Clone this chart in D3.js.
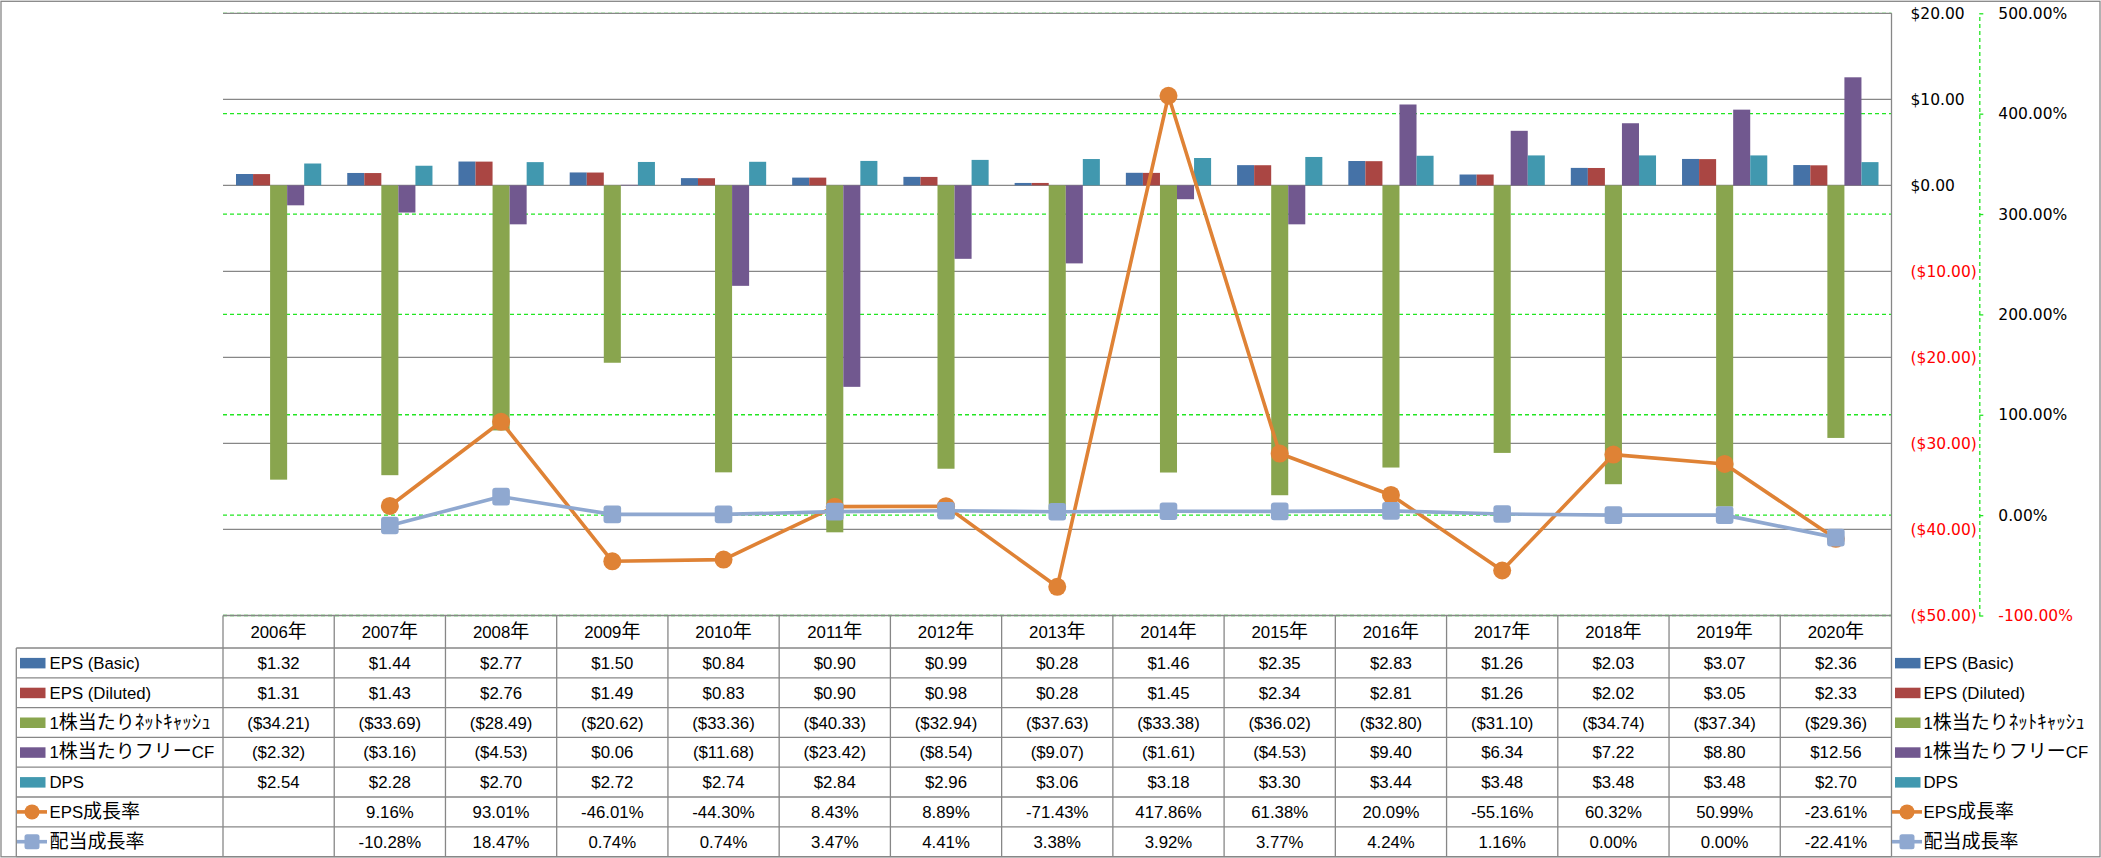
<!DOCTYPE html>
<html><head><meta charset="utf-8">
<script src="https://cdn.jsdelivr.net/npm/d3@7"></script>
<style>html,body{margin:0;padding:0;background:#fff;}svg{display:block;}</style>
</head><body>
<svg id="chart" width="2101" height="858"></svg>
<script>
const years = ["2006年","2007年","2008年","2009年","2010年","2011年","2012年","2013年","2014年","2015年","2016年","2017年","2018年","2019年","2020年"];
const epsBasic   = [1.32,1.44,2.77,1.50,0.84,0.90,0.99,0.28,1.46,2.35,2.83,1.26,2.03,3.07,2.36];
const epsDiluted = [1.31,1.43,2.76,1.49,0.83,0.90,0.98,0.28,1.45,2.34,2.81,1.26,2.02,3.05,2.33];
const netCash    = [-34.21,-33.69,-28.49,-20.62,-33.36,-40.33,-32.94,-37.63,-33.38,-36.02,-32.80,-31.10,-34.74,-37.34,-29.36];
const freeCF     = [-2.32,-3.16,-4.53,0.06,-11.68,-23.42,-8.54,-9.07,-1.61,-4.53,9.40,6.34,7.22,8.80,12.56];
const dps        = [2.54,2.28,2.70,2.72,2.74,2.84,2.96,3.06,3.18,3.30,3.44,3.48,3.48,3.48,2.70];
const epsGrowth  = [null,9.16,93.01,-46.01,-44.30,8.43,8.89,-71.43,417.86,61.38,20.09,-55.16,60.32,50.99,-23.61];
const divGrowth  = [null,-10.28,18.47,0.74,0.74,3.47,4.41,3.38,3.92,3.77,4.24,1.16,0.00,0.00,-22.41];
const leftTicks  = [-50,-40,-30,-20,-10,0,10,20];
const rightTicks = [-100,0,100,200,300,400,500];

const barSeries = [
  {name:"EPS (Basic)", values:epsBasic, color:"#4572A7"},
  {name:"EPS (Diluted)", values:epsDiluted, color:"#AA4643"},
  {name:"1株当たりﾈｯﾄｷｬｯｼｭ", values:netCash, color:"#89A54E"},
  {name:"1株当たりフリーCF", values:freeCF, color:"#71588F"},
  {name:"DPS", values:dps, color:"#4198AF"}
];
const lineSeries = [
  {name:"EPS成長率", values:epsGrowth, color:"#DF8235", marker:"circle"},
  {name:"配当成長率", values:divGrowth, color:"#8FA8D0", marker:"square"}
];

const svg = d3.select("#chart");
const GRAY = "#878787", GREEN = "#22e622", RED = "#ff0000";
const plotL = 223, plotR = 1891.5, plotT = 13.3, plotB = 615.5;
const tableL = 16.3, headerB = 648, tableB = 856.6;

svg.append("rect").attr("x",1).attr("y",1.3).attr("width",2099).attr("height",855.5)
  .attr("fill","#fff").attr("stroke",GRAY).attr("stroke-width",1.3);

const x = d3.scaleBand().domain(years).range([plotL, plotR]).padding(0);
const bw = x.bandwidth();
const xInner = d3.scaleBand().domain(barSeries.map(s=>s.name)).range([13, bw-13]).padding(0);
const yL = d3.scaleLinear().domain([-50,20]).range([plotB, plotT]);
const yR = d3.scaleLinear().domain([-100,500]).range([plotB, plotT]);

// green dashed gridlines (percent axis)
svg.append("g").selectAll("line").data(rightTicks).join("line")
  .attr("x1",plotL).attr("x2",plotR).attr("y1",d=>yR(d)).attr("y2",d=>yR(d))
  .attr("stroke",GREEN).attr("stroke-width",1.3).attr("stroke-dasharray","4,3");
// gray gridlines
svg.append("g").selectAll("line").data(leftTicks).join("line")
  .attr("x1",plotL).attr("x2",plotR).attr("y1",d=>yL(d)).attr("y2",d=>yL(d))
  .attr("stroke",GRAY).attr("stroke-width",1.3);

// bars
barSeries.forEach(s=>{
  svg.append("g").selectAll("rect").data(s.values).join("rect")
    .attr("x",(d,i)=>x(years[i])+xInner(s.name))
    .attr("width",xInner.bandwidth())
    .attr("y",d=>yL(Math.max(0,d)))
    .attr("height",d=>Math.abs(yL(d)-yL(0)))
    .attr("fill",s.color);
});

// lines
lineSeries.forEach(s=>{
  const pts = s.values.map((v,i)=>({v,i})).filter(p=>p.v!==null);
  const line = d3.line().x(p=>x(years[p.i])+bw/2).y(p=>yR(p.v));
  svg.append("path").datum(pts).attr("d",line).attr("fill","none")
    .attr("stroke",s.color).attr("stroke-width",3.6).attr("stroke-linejoin","round");
  const g = svg.append("g");
  if (s.marker==="circle") {
    g.selectAll("circle").data(pts).join("circle")
      .attr("cx",p=>x(years[p.i])+bw/2).attr("cy",p=>yR(p.v)).attr("r",9).attr("fill",s.color);
  } else {
    g.selectAll("rect").data(pts).join("rect")
      .attr("x",p=>x(years[p.i])+bw/2-8.8).attr("y",p=>yR(p.v)-8.8)
      .attr("width",17.6).attr("height",17.6).attr("rx",3).attr("fill",s.color);
  }
});

// plot right border
svg.append("line").attr("x1",plotR).attr("x2",plotR).attr("y1",plotT).attr("y2",tableB)
  .attr("stroke",GRAY).attr("stroke-width",1.3);

// axes
const fmtMoney = v => (v<0 ? "($"+d3.format(".2f")(-v)+")" : "$"+d3.format(".2f")(v));
const fmtPct = v => (v<0 ? "-" : "") + d3.format(".2f")(Math.abs(v)) + "%";

const axL = svg.append("g").attr("transform","translate(1910.5,0)")
  .call(d3.axisRight(yL).tickValues(leftTicks).tickSize(0).tickPadding(0).tickFormat(fmtMoney));
axL.select(".domain").remove();
axL.selectAll("text").attr("font-family","'DejaVu Sans'").attr("font-size","15.5px")
  .attr("fill",d=>d<0?RED:"#000");

const axR = svg.append("g").attr("transform","translate(1979.3,0)")
  .call(d3.axisRight(yR).tickValues(rightTicks).tickSize(4).tickSizeOuter(0).tickPadding(15).tickFormat(fmtPct));
axR.select(".domain").attr("stroke",GREEN).attr("stroke-width",1.3).attr("stroke-dasharray","4,3");
axR.selectAll(".tick line").attr("stroke",GREEN).attr("stroke-width",1.3);
axR.selectAll("text").attr("font-family","'DejaVu Sans'").attr("font-size","15.5px")
  .attr("fill",d=>d<0?RED:"#000");

// data table
const CJK = /[\u3000-\u9fff\uff00-\uffef]/;
function richText(sel, str) {
  const parts = str.match(/[\u3000-\u9fff\uff00-\uffef]+|[^\u3000-\u9fff\uff00-\uffef]+/g);
  parts.forEach(p=>{
    const c = CJK.test(p);
    sel.append("tspan").text(p)
      .attr("font-family", c ? "'Noto Sans CJK JP'" : "'Liberation Sans'")
      .attr("font-size", c ? "19px" : "16.8px");
  });
}
const rowH = (tableB-headerB)/7;
const rowTop = i => headerB + i*rowH;
const tbl = svg.append("g");
d3.range(0,8).forEach(i=>{
  tbl.append("line").attr("x1",tableL).attr("x2",plotR).attr("y1",rowTop(i)).attr("y2",rowTop(i))
    .attr("stroke",GRAY).attr("stroke-width",1.3);
});
tbl.append("line").attr("x1",tableL).attr("x2",tableL).attr("y1",headerB).attr("y2",tableB)
  .attr("stroke",GRAY).attr("stroke-width",1.3);
years.forEach(yr=>{
  tbl.append("line").attr("x1",x(yr)).attr("x2",x(yr)).attr("y1",plotB).attr("y2",tableB)
    .attr("stroke",GRAY).attr("stroke-width",1.3);
});
years.forEach(yr=>{
  const t = tbl.append("text").attr("x",x(yr)+bw/2).attr("y",(plotB+headerB)/2+6).attr("text-anchor","middle").attr("fill","#000");
  richText(t, yr);
});
const allSeries = barSeries.map(s=>({...s,type:"bar"})).concat(lineSeries.map(s=>({...s,type:"line"})));
function legendKey(g, s, kx, cy) {
  if (s.type==="bar") {
    g.append("rect").attr("x",kx).attr("y",cy-5).attr("width",25.5).attr("height",10.5).attr("fill",s.color);
  } else {
    g.append("line").attr("x1",kx-3).attr("x2",kx+27).attr("y1",cy).attr("y2",cy)
      .attr("stroke",s.color).attr("stroke-width",3.6);
    if (s.marker==="circle") g.append("circle").attr("cx",kx+12).attr("cy",cy).attr("r",7.5).attr("fill",s.color);
    else g.append("rect").attr("x",kx+4.5).attr("y",cy-7.5).attr("width",15).attr("height",15).attr("rx",2.5).attr("fill",s.color);
  }
}
allSeries.forEach((s,r)=>{
  const cy = rowTop(r)+rowH/2;
  legendKey(tbl, s, 20, cy);
  const t = tbl.append("text").attr("x",49.5).attr("y",cy+6).attr("fill","#000");
  richText(t, s.name);
  s.values.forEach((v,i)=>{
    if (v===null) return;
    const t2 = tbl.append("text").attr("x",x(years[i])+bw/2).attr("y",cy+6).attr("text-anchor","middle").attr("fill","#000");
    richText(t2, s.type==="bar" ? fmtMoney(v) : fmtPct(v));
  });
  legendKey(svg, s, 1895, cy);
  const t3 = svg.append("text").attr("x",1923.5).attr("y",cy+6).attr("fill","#000");
  richText(t3, s.name);
});
</script>
</body></html>
